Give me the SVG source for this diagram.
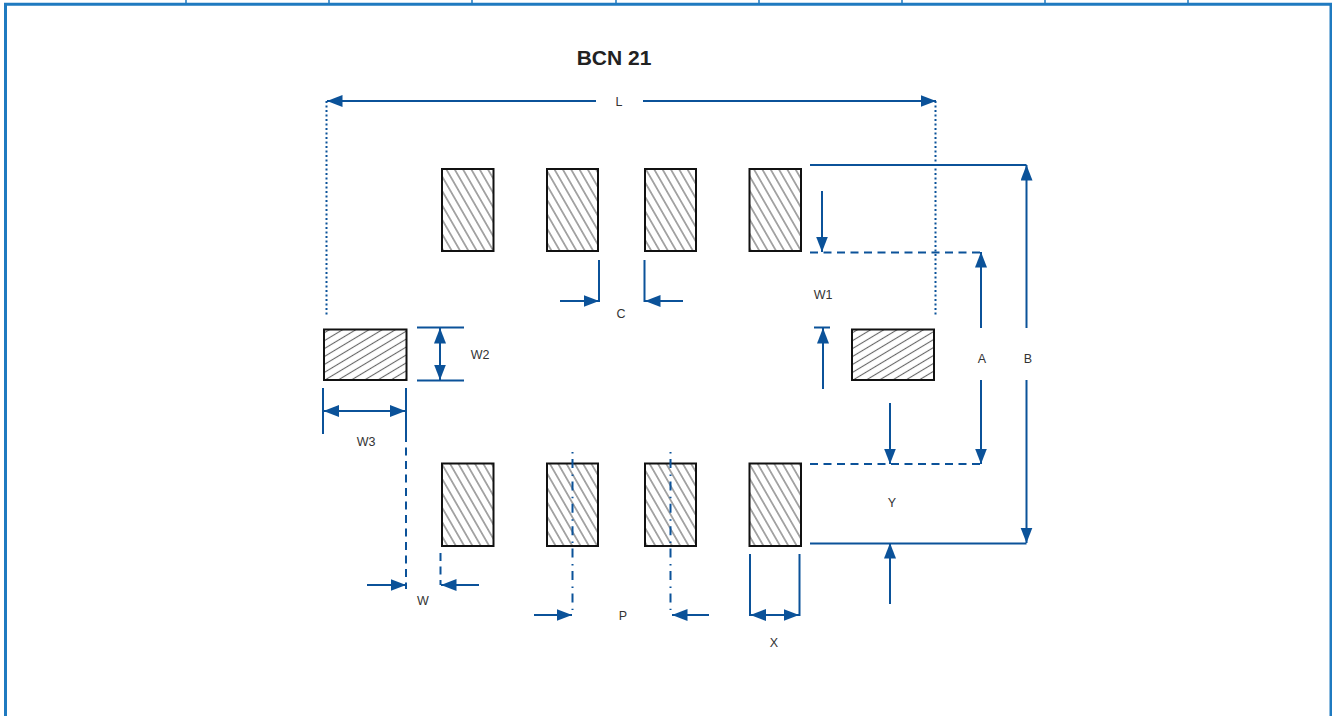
<svg xmlns="http://www.w3.org/2000/svg" width="1332" height="716" viewBox="0 0 1332 716">
<style>
.pad{stroke:#111;stroke-width:2}
.v{fill:url(#hv)}
.h{fill:url(#hh)}
.dim{stroke:#0b5299;stroke-width:2;fill:none}
.thin{stroke:#0b5299;stroke-width:2;fill:none}
.dash{stroke-dasharray:8 5.500}
.dot{stroke-dasharray:2 2.500}
.dd{stroke-dasharray:1.500 5.500 9 6.400}
.arr{marker-end:url(#a)}
.frame{stroke:#1f7ac0;fill:none}
text{font-family:"Liberation Sans",Arial,sans-serif;font-size:12.500px;fill:#333;text-anchor:middle}
.title{font-size:21px;font-weight:bold;fill:#222}
</style>
<defs>
<pattern id="hv" width="7.2" height="7.2" patternUnits="userSpaceOnUse" patternTransform="translate(442 169) rotate(-30)"><rect width="7.2" height="7.2" fill="#fff"/><line x1="3.6" y1="0" x2="3.6" y2="7.2" stroke="#666" stroke-width="1.1"/></pattern>
<pattern id="hh" width="6.8" height="6.8" patternUnits="userSpaceOnUse" patternTransform="translate(324 329) rotate(-31)"><rect width="6.8" height="6.8" fill="#fff"/><line x1="0" y1="3.4" x2="6.8" y2="3.4" stroke="#666" stroke-width="1.1"/></pattern>
<marker id="a" markerUnits="userSpaceOnUse" markerWidth="17" markerHeight="13" refX="15.500" refY="6" orient="auto"><path d="M0 0L15.500 6L0 12Z" fill="#0b5299"/></marker>
</defs>
<g id="frame">
<path class="frame" stroke-width="3" d="M5.500 716V4.200H1331V716"/>
<path class="frame" stroke-width="1.500" d="M186 0V3M329 0V3M472 0V3M616 0V3M759 0V3M902 0V3M1045 0V3M1188 0V3"/>
</g>
<text class="title" x="614" y="65">BCN 21</text>
<g id="pad-top-1"><rect class="pad v" x="442" y="169" width="51.500" height="82"/></g>
<g id="pad-top-2"><rect class="pad v" x="547" y="169" width="51" height="82"/></g>
<g id="pad-top-3"><rect class="pad v" x="645" y="169" width="51" height="82"/></g>
<g id="pad-top-4"><rect class="pad v" x="749.500" y="169" width="51.500" height="82"/></g>
<g id="pad-bottom-1"><rect class="pad v" x="442" y="463.500" width="51.500" height="82.500"/></g>
<g id="pad-bottom-2"><rect class="pad v" x="547" y="463.500" width="51" height="82.500"/></g>
<g id="pad-bottom-3"><rect class="pad v" x="645" y="463.500" width="51" height="82.500"/></g>
<g id="pad-bottom-4"><rect class="pad v" x="749.500" y="463.500" width="51.500" height="82.500"/></g>
<g id="pad-left"><rect class="pad h" x="324" y="329.500" width="82.500" height="50.500"/></g>
<g id="pad-right"><rect class="pad h" x="852" y="329.500" width="82" height="50.500"/></g>
<g id="connectors">
<path class="dim arr" d="M596 101H327"/>
<path class="dim arr" d="M643 101H936"/>
<path class="thin dot" d="M326.500 101V317M935.500 101V317"/>
<path class="dim" d="M810 165H1026.500"/>
<path class="dim arr" d="M1026.500 328V165"/>
<path class="dim arr" d="M1026.500 380V543"/>
<path class="dim" d="M810 543.500H1026.500"/>
<path class="thin dash" d="M810 252.500H981M810 464H981"/>
<path class="dim arr" d="M981 328V252"/>
<path class="dim arr" d="M981 380V464"/>
<path class="dim arr" d="M822 191V252"/>
<path class="dim arr" d="M823 389V328"/>
<path class="thin" d="M814 327.500H830"/>
<path class="dim arr" d="M890 403V464"/>
<path class="dim arr" d="M890 604V543"/>
<path class="thin" d="M599 260V302M644.500 260V302"/>
<path class="thin arr" d="M560 301H599"/>
<path class="thin arr" d="M683 301H645"/>
<path class="thin" d="M417 327.500H464M417 380.500H464"/>
<path class="dim arr" d="M440 345V328"/>
<path class="dim arr" d="M440 363V380"/>
<path class="thin" d="M440 345V363"/>
<path class="thin" d="M323 388V434M406 388V434"/>
<path class="dim arr" d="M364 411H323.500"/>
<path class="dim arr" d="M364 411H405.500"/>
<path class="thin dash" d="M406 434V589M440.500 553V585"/>
<path class="dim arr" d="M367 585H406"/>
<path class="dim arr" d="M479 585H441"/>
<path class="thin dd" d="M572.500 452V610M670.500 452V610"/>
<path class="dim arr" d="M534 615H572"/>
<path class="dim arr" d="M709 615H672"/>
<path class="thin" d="M750 554V616M799.500 554V616"/>
<path class="dim arr" d="M775 615H750.500"/>
<path class="dim arr" d="M775 615H799"/>
</g>
<g id="labels">
<text x="619" y="106">L</text>
<text x="621" y="318">C</text>
<text x="823" y="299">W1</text>
<text x="480" y="359">W2</text>
<text x="366" y="446">W3</text>
<text x="982" y="363">A</text>
<text x="1028" y="363">B</text>
<text x="892" y="507">Y</text>
<text x="423" y="605">W</text>
<text x="623" y="620">P</text>
<text x="774" y="647">X</text>
</g>
</svg>
